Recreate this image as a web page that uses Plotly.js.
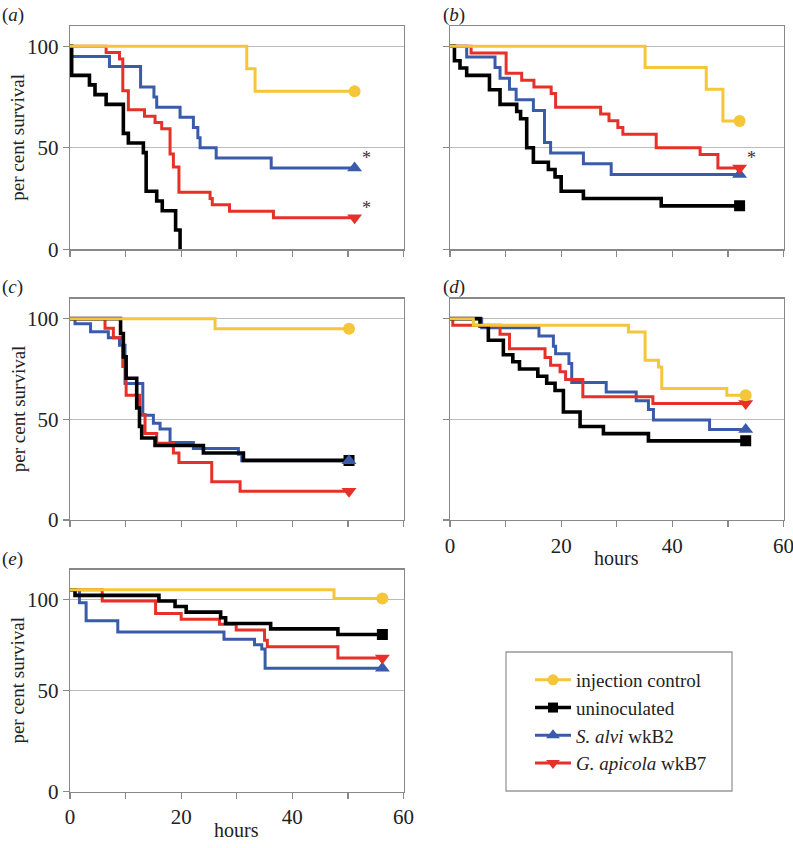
<!DOCTYPE html>
<html>
<head>
<meta charset="utf-8">
<script src="https://cdn.plot.ly/plotly-3.0.1.min.js"></script>
<style>
  html, body { margin: 0; padding: 0; background: #fff; }
  #chart { width: 793px; height: 848px; }
</style>
</head>
<body>
<div id="chart"></div>
<script>
// Survival curves, five panels (a)-(e); t = hours, s = per cent survival

// axis ticks
const HOUR_TICKS  = [0, 10, 20, 30, 40, 50, 60];
const HOUR_LABELS = ['0', '', '20', '', '40', '', '60'];
const SURV_TICKS   = [0, 50, 100];
const SURV_TICKS_E = [0, 50, 95];   // panel (e) grid line labelled 100 sits lower
const SURV_LABELS  = ['0', '50', '100'];

const GROUPS = ['injection control', 'uninoculated', '<i>S. alvi</i> wkB2', '<i>G. apicola</i> wkB7'];

// (a)
const ctrlA_t = [0, 31.8, 33.3, 51.2];
const ctrlA_s = [100, 88.9, 77.8, 77.8];
const uninA_t = [0, 0.3, 3.5, 4.5, 6.5, 9.6, 10.5, 13.2, 13.7, 15.6, 16.6, 19, 19.8];
const uninA_s = [100, 85.7, 81, 76.2, 71.4, 57.1, 52.4, 47.6, 28.6, 23.8, 19, 9.5, 0];
const salvA_t = [0, 0.2, 7.1, 12.7, 15.1, 15.6, 19.8, 22.2, 23, 23.4, 26.3, 36.2, 51.2];
const salvA_s = [100, 95, 90, 80, 75, 70, 65, 60, 55, 50, 45, 40, 40];
const gapiA_t = [0, 6.5, 8.9, 9.5, 10.5, 13.4, 15.3, 16.5, 18, 18.6, 19.6, 25.2, 25.6, 28.7, 36.6, 51.2];
const gapiA_s = [100, 96.9, 93.8, 78.1, 68.8, 65.6, 62.5, 59.4, 46.9, 40.6, 28.1, 25, 21.9, 18.8, 15.6, 15.6];

// (b)
const ctrlB_t = [0, 35.1, 46.1, 49.1, 52.1];
const ctrlB_s = [100, 89.5, 78.9, 63.2, 63.2];
const uninB_t = [0, 0.8, 1.8, 3, 7.1, 9, 12, 12.7, 13.8, 15, 17.7, 18.9, 20, 24, 38, 52.1];
const uninB_s = [100, 92.9, 89.3, 85.7, 78.6, 71.4, 67.9, 64.3, 50, 42.9, 39.3, 35.7, 28.6, 25, 21.4, 21.4];
const salvB_t = [0, 3, 8.1, 9, 10.7, 11.9, 15, 17, 18.1, 24, 29, 52.1];
const salvB_s = [100, 94.7, 89.5, 84.2, 78.9, 73.7, 68.4, 52.6, 47.4, 42.1, 36.8, 36.8];
const gapiB_t = [0, 3.8, 10.1, 12.9, 15.1, 18.2, 19, 27.1, 28.6, 30.2, 31.1, 37.1, 45, 48.2, 52.1];
const gapiB_s = [100, 96.7, 86.7, 83.3, 80, 76.7, 70, 66.7, 63.3, 60, 56.7, 50, 46.7, 40, 40];

// (c)
const ctrlC_t = [0, 26.1, 50.2];
const ctrlC_s = [100, 95, 95];
const uninC_t = [0, 9.1, 9.6, 10.1, 12, 12.5, 12.9, 15.3, 24, 31.2, 50.2];
const uninC_s = [100, 92.6, 81, 70.4, 55.6, 46.5, 40.7, 37, 33.3, 29.6, 29.6];
const salvC_t = [0, 0.9, 3.7, 6.9, 8.9, 9.9, 13.1, 15, 16.2, 18, 22.2, 30.3, 30.9, 50.2];
const salvC_s = [100, 97.5, 93.5, 90.5, 86.8, 67.8, 52, 48, 45.2, 38.5, 35.5, 32.7, 29.4, 29.4];
const gapiC_t = [0, 6.3, 7.8, 9.5, 10.1, 12.5, 13.5, 15.6, 18.6, 19.6, 25.5, 30.6, 50.2];
const gapiC_s = [100, 95.2, 90.5, 76.2, 61.9, 52.4, 42.9, 38.1, 33.3, 28.6, 19, 14.3, 14.3];

// (d)
const ctrlD_t = [0, 4.2, 32.1, 35.1, 37.5, 38.1, 49.8, 53.2];
const ctrlD_s = [100, 96.7, 93.4, 79.3, 76, 65.3, 62, 62];
const uninD_t = [0, 5.4, 6.9, 9.6, 11.3, 12.5, 15.8, 17.4, 18.9, 20.4, 23.4, 27.6, 35.7, 53.2];
const uninD_s = [100, 96.4, 89.3, 82.1, 78.6, 75, 71.4, 67.9, 64.3, 53.6, 46.4, 42.9, 39.3, 39.3];
const salvD_t = [0, 5.7, 16, 18.6, 19, 21.4, 21.9, 28.1, 33.5, 35.7, 36.6, 46.7, 53.2];
const salvD_s = [100, 95.5, 91.4, 86.3, 82.6, 77.7, 68.3, 63.6, 59.2, 54.9, 49.6, 45, 45];
const gapiD_t = [0, 0.5, 9, 10.7, 17.1, 18.1, 19.8, 20.8, 23.9, 36.5, 53.2];
const gapiD_s = [100, 96.7, 92.2, 85.1, 80.7, 76.9, 73.6, 69.8, 61.2, 57.9, 57.9];

// (e)
const ctrlE_t = [0, 47.5, 56.2];
const ctrlE_s = [100, 95.7, 95.7];
const uninE_t = [0, 0.9, 16, 18.9, 20.9, 27.1, 28, 36.1, 48.2, 56.2];
const uninE_s = [100, 97.2, 94.4, 91.7, 88.9, 86.1, 83.3, 80.6, 77.8, 77.8];
const salvE_t = [0, 1.7, 2.9, 8.6, 27.7, 33.2, 34.5, 35.1, 56.2];
const salvE_s = [100, 93.6, 84.6, 79, 75.5, 72.7, 70.6, 61.1, 61.1];
const gapiE_t = [0, 5.8, 15.4, 20, 26.9, 29.9, 35, 35.5, 48.2, 56.2];
const gapiE_s = [100, 94.4, 88.2, 85.4, 82.9, 80, 75, 71.8, 66.2, 66.2];

// styles
const FONT = 'Liberation Serif';
const COLORS  = ['#F5C53A', '#000000', '#3A5BA9', '#E5312A'];
const SYMBOLS = ['circle', 'square', 'triangle-up', 'triangle-down'];
const MSIZE   = [12, 11, 13, 13];
const LWIDTH  = [3, 3.6, 3, 3];
const DRAW_ORDER = [2, 3, 1, 0];

const W = 793, H = 848;
const px = v => v / W;
const py = v => 1 - v / H;

const panels = [
  {id: '',  label: 'a', series: [[ctrlA_t, ctrlA_s], [uninA_t, uninA_s], [salvA_t, salvA_s], [gapiA_t, gapiA_s]], star: [2, 3]},
  {id: '2', label: 'b', series: [[ctrlB_t, ctrlB_s], [uninB_t, uninB_s], [salvB_t, salvB_s], [gapiB_t, gapiB_s]], star: [3]},
  {id: '3', label: 'c', series: [[ctrlC_t, ctrlC_s], [uninC_t, uninC_s], [salvC_t, salvC_s], [gapiC_t, gapiC_s]], star: []},
  {id: '4', label: 'd', series: [[ctrlD_t, ctrlD_s], [uninD_t, uninD_s], [salvD_t, salvD_s], [gapiD_t, gapiD_s]], star: []},
  {id: '5', label: 'e', series: [[ctrlE_t, ctrlE_s], [uninE_t, uninE_s], [salvE_t, salvE_s], [gapiE_t, gapiE_s]], star: []}
];

// pixel boxes of the panels
const COLS = [[70, 403.5], [450, 783.5]];
const ROWS = [[26, 249.3], [298.5, 520], [569.5, 791.7]];
const place = [[0, 0], [1, 0], [0, 1], [1, 1], [0, 2]];

const traces = [];
const annotations = [];
const layout = {
  width: W, height: H,
  margin: {l: 0, r: 0, t: 0, b: 0},
  paper_bgcolor: '#fff',
  plot_bgcolor: '#fff',
  font: {family: FONT, size: 18, color: '#222'},
  showlegend: true,
  legend: {
    x: px(530), y: py(661), xanchor: 'left', yanchor: 'top',
    itemwidth: 36,
    bgcolor: 'rgba(0,0,0,0)', borderwidth: 0,
    font: {family: FONT, size: 19, color: '#222'}
  },
  shapes: [{
    type: 'rect', xref: 'paper', yref: 'paper',
    x0: px(506), x1: px(732), y0: py(791), y1: py(652),
    line: {color: '#999', width: 1.3}
  }],
  annotations: annotations
};

panels.forEach((p, k) => {
  const [ci, ri] = place[k];
  const xa = 'x' + p.id, ya = 'y' + p.id;
  const showX = (p.label === 'd' || p.label === 'e');
  const showY = (ci === 0);
  const yt = p.label === 'e' ? SURV_TICKS_E : SURV_TICKS;

  layout['xaxis' + p.id] = {
    domain: [px(COLS[ci][0]), px(COLS[ci][1])],
    anchor: ya, range: [0, 60],
    tickvals: HOUR_TICKS, ticktext: showX ? HOUR_LABELS : HOUR_TICKS.map(() => ''),
    ticks: 'outside', ticklen: 6, tickcolor: '#888', tickwidth: 1.3,
    showline: true, mirror: true, linecolor: '#888', linewidth: 1.3,
    showgrid: false, zeroline: false, fixedrange: true,
    ticklabeloverflow: 'allow',
    tickfont: {family: FONT, size: 21, color: '#222'}
  };
  layout['yaxis' + p.id] = {
    domain: [py(ROWS[ri][1]), py(ROWS[ri][0])],
    anchor: xa, range: [0, 110],
    tickvals: yt, ticktext: showY ? SURV_LABELS : yt.map(() => ''),
    ticks: 'outside', ticklen: 6, tickcolor: '#888', tickwidth: 1.3,
    showline: true, mirror: true, linecolor: '#888', linewidth: 1.3,
    showgrid: true, gridcolor: '#bbb', gridwidth: 1, zeroline: false, fixedrange: true,
    tickfont: {family: FONT, size: 21, color: '#222'}
  };

  // step lines
  DRAW_ORDER.forEach(g => {
    const [t, s] = p.series[g];
    traces.push({
      x: t, y: s, xaxis: xa, yaxis: ya,
      type: 'scatter', mode: 'lines',
      line: {shape: 'hv', color: COLORS[g], width: LWIDTH[g]},
      showlegend: false, hoverinfo: 'skip'
    });
  });
  // end markers (none when the group died out)
  [1, 2, 3, 0].forEach(g => {
    const [t, s] = p.series[g];
    const n = t.length - 1;
    if (s[n] === 0) return;
    traces.push({
      x: [t[n]], y: [s[n]], xaxis: xa, yaxis: ya,
      type: 'scatter', mode: 'markers',
      marker: {symbol: SYMBOLS[g], color: COLORS[g], size: MSIZE[g]},
      showlegend: false, hoverinfo: 'skip'
    });
  });
  // significance stars
  p.star.forEach(g => {
    const [t, s] = p.series[g];
    const n = t.length - 1;
    annotations.push({
      x: t[n], y: s[n], xref: xa, yref: ya,
      text: '*', showarrow: false, xshift: 12, yshift: 10,
      font: {family: FONT, size: 18, color: '#333'}
    });
  });

  // panel letter
  annotations.push({
    x: ci === 0 ? 0 : px(441), y: py(ROWS[ri][0] - 11),
    xref: 'paper', yref: 'paper', xanchor: 'left', yanchor: 'middle',
    text: '(<i>' + p.label + '</i>)', showarrow: false,
    font: {family: FONT, size: 19, color: '#222'}
  });
  // y title
  if (showY) {
    annotations.push({
      x: px(18), y: py((ROWS[ri][0] + ROWS[ri][1]) / 2),
      xref: 'paper', yref: 'paper', xanchor: 'center', yanchor: 'middle',
      text: 'per cent survival', textangle: -90, showarrow: false,
      font: {family: FONT, size: 19, color: '#222'}
    });
  }
  // x title
  if (showX) {
    annotations.push({
      x: px((COLS[ci][0] + COLS[ci][1]) / 2), y: py(ROWS[ri][1] + 38),
      xref: 'paper', yref: 'paper', xanchor: 'center', yanchor: 'middle',
      text: 'hours', showarrow: false,
      font: {family: FONT, size: 20, color: '#222'}
    });
  }
});

// legend entries
[0, 1, 2, 3].forEach(g => {
  traces.push({
    x: [null], y: [null], xaxis: 'x5', yaxis: 'y5',
    type: 'scatter', mode: 'lines+markers', name: GROUPS[g],
    line: {color: COLORS[g], width: LWIDTH[g]},
    marker: {symbol: SYMBOLS[g], color: COLORS[g], size: MSIZE[g] - 1},
    hoverinfo: 'skip'
  });
});

Plotly.newPlot('chart', traces, layout, {staticPlot: true});
</script>
</body>
</html>
